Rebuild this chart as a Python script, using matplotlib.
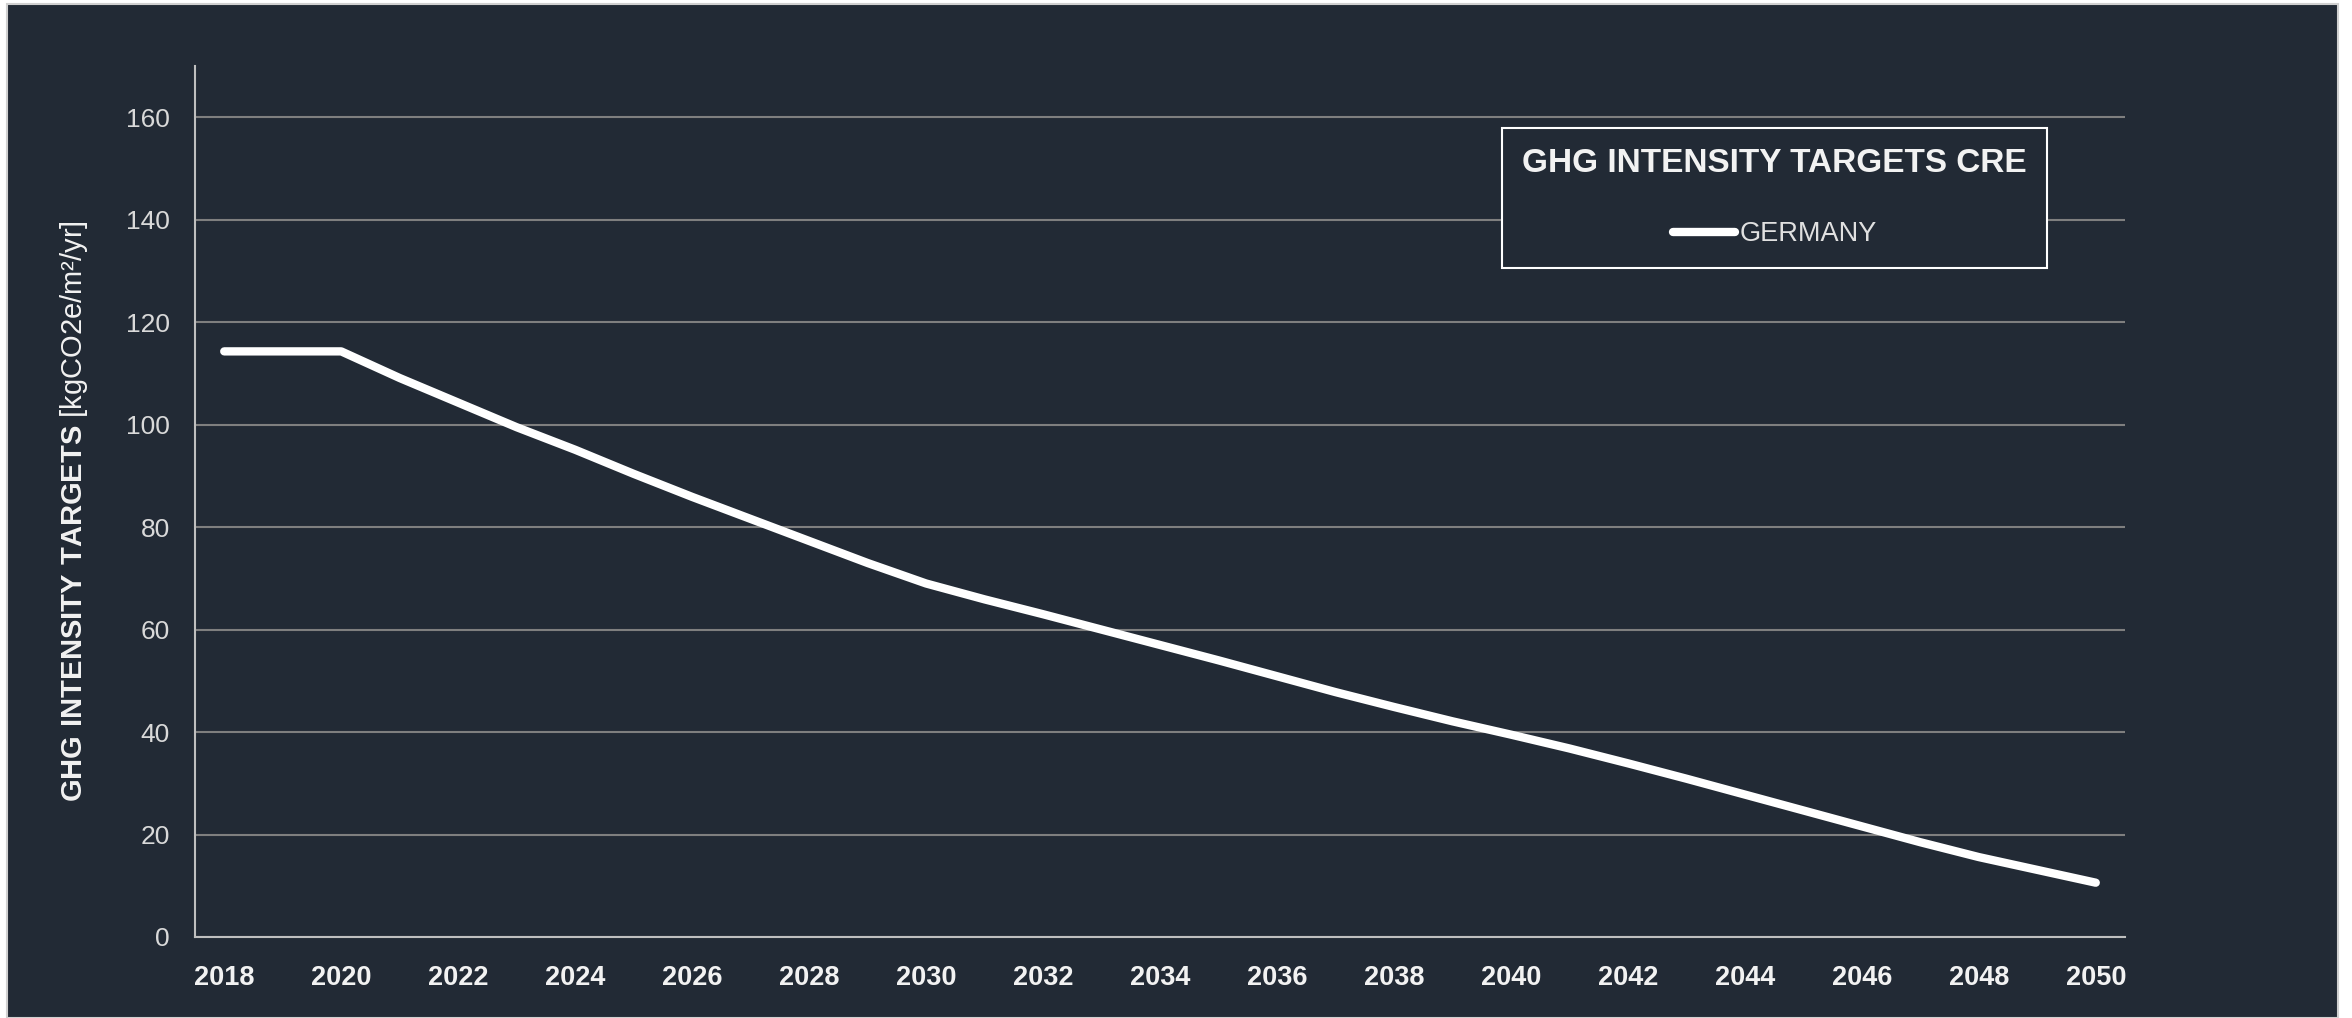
import matplotlib
matplotlib.use('Agg')
import matplotlib.pyplot as plt
from matplotlib.patches import Rectangle

years = list(range(2018, 2051))
germany = [114.3, 114.3, 114.3, 109.1, 104.3, 99.5, 95.1, 90.4, 85.9, 81.6, 77.3,
           73.0, 69.0, 65.9, 63.0, 60.0, 57.0, 54.0, 50.9, 47.8, 44.9, 42.1, 39.5,
           36.8, 33.9, 30.9, 27.8, 24.7, 21.6, 18.5, 15.6, 13.1, 10.6]
y_ticks = [0, 20, 40, 60, 80, 100, 120, 140, 160]
x_labels = [str(y) if (y - 2018) % 2 == 0 else '' for y in years]

BG = '#222a35'
plt.rcParams['font.family'] = ['Liberation Sans', 'DejaVu Sans']
plt.rcParams['mathtext.fontset'] = 'custom'
plt.rcParams['mathtext.rm'] = 'Liberation Sans'
plt.rcParams['mathtext.bf'] = 'Liberation Sans:bold'

fig = plt.figure(figsize=(23.52, 10.18), dpi=100, facecolor='white')
fig.patches.append(Rectangle((7 / 2352, 0), 2331 / 2352, 1014 / 1018,
                             transform=fig.transFigure, facecolor=BG,
                             edgecolor='#d0d0d0', linewidth=1.5, zorder=-10))

ax = fig.add_axes([195 / 2352, 81 / 1018, 1930 / 2352, 871 / 1018])
ax.set_facecolor(BG)
ax.patch.set_alpha(0)

x = list(range(len(years)))
ax.plot(x, germany, color='white', linewidth=6, solid_capstyle='round',
        solid_joinstyle='round', label='GERMANY', zorder=3)

ax.set_xlim(-0.5, len(years) - 0.5)
ax.set_ylim(0, 170)
ax.set_xticks(x)
ax.set_xticklabels(x_labels)
ax.set_yticks(y_ticks)
ax.grid(axis='y', color='#7f7f7f', linewidth=1.5)
ax.set_axisbelow(True)

for side in ['top', 'right']:
  ax.spines[side].set_visible(False)
for side in ['left', 'bottom']:
  ax.spines[side].set_color('#bfbfbf')
  ax.spines[side].set_linewidth(1.5)

ax.tick_params(axis='x', length=0, pad=20, labelsize=19.5, labelcolor='#f2f2f2')
ax.tick_params(axis='y', length=0, pad=18, labelsize=19, labelcolor='#d9d9d9')
for lbl in ax.get_xticklabels():
  lbl.set_fontweight('bold')

ax.set_ylabel(r'$\mathbf{GHG\ INTENSITY\ TARGETS}$ [kgCO2e/m²/yr]',
              fontsize=21, color='#f2f2f2')
ax.yaxis.set_label_coords(-0.0545, 0.489)

leg = ax.legend(loc='upper left', bbox_to_anchor=(1502 / 2352, 1 - 128 / 1018),
                bbox_transform=fig.transFigure, title='GHG INTENSITY TARGETS CRE',
                fontsize=19.5, title_fontsize=24, handlelength=2.3, handletextpad=0.15,
                borderpad=0.75, borderaxespad=0, labelspacing=1.55, alignment='center',
                fancybox=False, facecolor=BG, edgecolor='white', labelcolor='#e0e0e0',
                framealpha=1)
leg.get_title().set_color('#f2f2f2')
leg.get_title().set_fontweight('bold')
leg.get_frame().set_linewidth(1.5)

fig.savefig('out.png', dpi=100, facecolor=fig.get_facecolor())
